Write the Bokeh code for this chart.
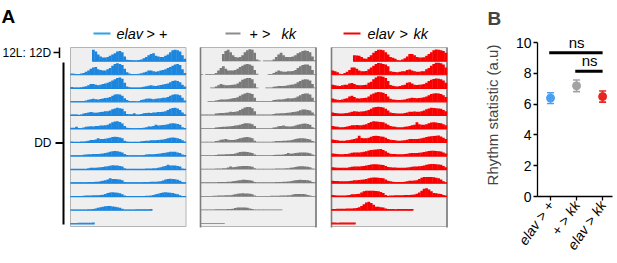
import math
from bokeh.plotting import figure
from bokeh.layouts import row
from bokeh.models import Range1d, FixedTicker, Whisker, ColumnDataSource, TeeHead
from bokeh.core.properties import value
from bokeh.embed import file_html
from bokeh.resources import INLINE

FONT = "Liberation Sans"
N = None

# ---------------- data ----------------
genotypes = ["elav > +", "+ > kk", "elav > kk"]
bar_colors = ["#1c86de", "#7a7a7a", "#f70000"]
legend_colors = ["#29a3e6", "#8c8c8c", "#f70000"]
point_colors = ["#4b9ff0", "#a3a3a3", "#e8251f"]

# hourly activity per day (0-10 scale), double plotted: row r = day r | day r+1
elav_plus = [
    [N]*9 + [9.5, 8, 5.5, 4, 3, 3, 3.5, 4.5, 5.5, 6.5, 8, 8.5, 7.5, 4, 1.2],
    [1, 0.8, 0.3, 0.2, 1, 1.5, 2.5, 3.5, 5, 6, 6.5, 4.5, 4, 3.5, 3.5, 4.5, 5.5, 7.5, 9, 9.5, 9, 8, 5, 2],
    [1, 0.6, 0.3, 0.5, 0.8, 1.2, 1.8, 2.5, 3.5, 3.5, 3, 2.5, 3, 3.5, 4, 4.5, 5.5, 6.5, 7.5, 8.5, 9, 8, 4.5, 1.5],
    [0.8, 0.5, 0.3, 0.4, 0.6, 0.8, 1.2, 1.8, 2.2, 2.5, 2.2, 2, 2.3, 2.8, 3.2, 3.5, 4, 5, 6, 6.4, 6, 5, 3, 1.5],
    [0.5, 0.4, 0.2, 0, 0.3, 1.5, 2, 2.5, 2.8, 2.5, 2.2, 2.5, 2.8, 3, 3.5, 3.5, 4, 5, 5.8, 6.4, 6, 5.5, 3.5, 1.2],
    [1, 1, 1.8, 0.8, 0.6, 1.2, 1.8, 2, 2.2, 2, 2.5, 2.5, 2.8, 2.8, 3, 3.5, 4.5, 5.5, 6.2, 6.4, 5.8, 4.5, 2.5, 1],
    [0.8, 0.6, 0.5, 0.6, 0.8, 0.8, 1, 1.5, 2, 2, 2.5, 3.5, 2.8, 3, 3.2, 3.5, 4, 4.5, 4.7, 4.5, 4.2, 3.5, 1.5, 0.8],
    [0.5, 0.4, 0.5, 0.3, 0.5, 1, 1.3, 1.5, 1.5, 1.8, 1.8, 1.8, 2, 2.2, 2.5, 3, 3.5, 4, 4.2, 4, 3.6, 3, 1.8, 0.8],
    [0.5, 0.3, 0.3, 0.3, 0.5, 0.6, 0.8, 1.2, 1.5, 1.5, 1.5, 1.8, 2, 2.2, 2.5, 2.8, 3.2, 3.6, 3.5, 3.5, 3, 2.5, 1.2, 0.8],
    [0.5, 0.5, 0.4, 0.5, 0.6, 0.8, 0.8, 1, 1, 1, 1.2, 1.2, 1.5, 2, 2.5, 3, 4, 3.5, 3.5, 3.3, 3, 2.5, 1, 0.5],
    [0.5, 0.4, 0.3, 0.4, 0.5, 0.8, 1, 1, 1, 1.1, 1.2, 1.2, 1.4, 1.6, 2.2, 3, 3.5, 3.6, 3.4, 3.2, 2.8, 2, 1, 0.5],
    [0.4, 0.3, 0.2, 0.4, 0.5, 0.6, 0.6, 0.8, 0.8, 1, 1.5, 2, 2.5, 3, 3.4, 3.6, 3.5, 3.2, 3, 2.5, 2, 1.2, 0.6, 0.5],
    [0.5, 0.6, 0.7, 0.8, 0.8, 0.8, 0.9, 0.8, 0.9, 1.0],
]
plus_kk = [
    [N]*9 + [6, 8.5, 9.4, 7.5, 5, 3.5, 3, 3.5, 5, 7.5, 9, 10, 9.5, 7, 1.5],
    [0.2, 0, 0.3, 0.3, 0.3, 0.5, 1.5, 3.5, 5.5, 7, 5, 3.5, 3.5, 3.5, 4, 5, 6.5, 7.5, 8.5, 8.9, 8.5, 7.5, 4, 0.8],
    [0, 0, 0, 0, 0.3, 0.5, 1.5, 2.5, 3.5, 3, 2.5, 2.5, 2.8, 3, 3.2, 4, 5.5, 7, 8, 8.6, 8.5, 7.5, 4, 0.6],
    [0, 0, 0, 0.2, 0.3, 0.5, 1.2, 1.5, 2, 2, 2, 2.2, 2.5, 3, 3.2, 3.8, 5, 6, 7, 7.5, 7.2, 6.5, 3.5, 0.5],
    [0.2, 0.2, 0.2, 0.3, 0.2, 0.5, 1.5, 1.8, 2, 2, 2.2, 2.5, 3, 2.8, 3, 3.5, 4.5, 5.5, 6.5, 7, 7, 6, 3.5, 0.5],
    [0.2, 0.2, 0.2, 0.2, 0.3, 0.5, 1.2, 1.5, 1.6, 1.8, 1.8, 2, 2.3, 2.5, 2.8, 3, 3.5, 4.2, 4.8, 4.8, 4.5, 4, 2.5, 0.5],
    [0.2, 0.2, 0.3, 0.2, 0.4, 0.6, 1.3, 1.5, 2.2, 2.5, 2.8, 2.2, 2, 2.1, 2.3, 2.8, 3.5, 4, 4.3, 4.5, 4.2, 3.5, 1.5, 0.6],
    [0.2, 0.2, 0.2, 0.3, 0.3, 0.4, 0.8, 1.2, 1.3, 1.3, 1.4, 1.5, 1.6, 1.8, 2.2, 2.8, 3.3, 3.5, 3.6, 3.4, 3, 2.5, 1.2, 0.4],
    [0.2, 0.2, 0.2, 0.2, 0.3, 0.6, 0.9, 1, 1, 1.1, 1.2, 1.8, 2.5, 2, 2.2, 2.5, 2.8, 3, 3, 3, 2.8, 2.3, 1.2, 0.3],
    [0.2, 0.2, 0.1, 0.2, 0.3, 0.5, 0.8, 1, 1, 1, 1, 1.1, 1.2, 1.5, 1.8, 2.2, 2.5, 2.8, 2.8, 2.6, 2.4, 2, 1, 0.3],
    [0.2, 0.2, 0.2, 0.2, 0.4, 0.7, 0.8, 0.9, 1, 1, 1.1, 1.2, 1.3, 1.6, 2, 2.4, 2.6, 2.8, 2.7, 2.6, 2.4, 2, 1, 0.3],
    [0.2, 0.2, 0.2, 0.3, 0.6, 0.7, 0.8, 0.8, 0.8, 0.9, 0.9, 1, 1.1, 1.3, 1.8, 2.2, 2.3, 2.3, 2.2, 2.1, 1.5, 1, 0.6, 0.2],
    [0.2, 0.2, 0.2, 0.5, 0.6, 0.6, 0.6, 0.7, 0.7, 0.6],
]
elav_kk = [
    [N]*9 + [5, 4.8, 4.5, 3.5, 2.2, 2, 3.5, 5, 7, 8.5, 9.4, 9.4, 9, 7.5, 5.5],
    [3.5, 2.8, 2, 0.8, 0.2, 1.5, 2.5, 4, 6, 6, 5, 3.5, 3, 3, 3.2, 4.5, 6, 7.5, 9, 9.7, 9.5, 9, 8.5, 7],
    [3, 2.5, 2.2, 2, 2.5, 3, 3, 4, 4.4, 3.5, 2.8, 2.5, 2.5, 2.8, 3, 4.5, 5.5, 7.5, 9, 10, 10, 9.5, 8.5, 6],
    [2.8, 2.2, 1.8, 1.5, 2, 2.5, 3, 4.5, 5, 4, 3, 2.8, 3, 3.2, 3.5, 4.5, 6, 7, 7.8, 8.2, 8, 7.5, 6.5, 4.5],
    [2.5, 2, 1.8, 1.5, 1.5, 1.8, 2, 2.5, 3, 3.5, 3.2, 3, 3.2, 3.5, 3.8, 4.5, 5.5, 6.5, 7, 7.2, 7, 6.5, 5.5, 4],
    [2.5, 2, 1.8, 1.5, 1.5, 1.6, 2, 2.5, 3, 3, 3.2, 3, 3, 3.5, 4, 5, 5.8, 6.4, 6.2, 6, 5.8, 5.5, 4.5, 3.5],
    [2.5, 2, 1.8, 1.5, 1.5, 1.5, 1.8, 2, 2.5, 3, 3.5, 5.5, 3.8, 3.5, 3.5, 4, 4.8, 5.3, 5.5, 5.3, 5, 4.8, 4, 3],
    [2.2, 2, 1.8, 1.5, 1.5, 1.6, 1.8, 2.2, 2.8, 3, 3, 3, 3.2, 3.5, 4, 4.5, 5, 5.2, 5.4, 5.6, 5.8, 5, 4, 2.8],
    [2, 1.8, 1.6, 1.5, 1.5, 1.5, 1.6, 2, 2.3, 2.5, 2.5, 2.6, 2.8, 3, 3.4, 3.8, 4.2, 4.4, 4.4, 4.2, 4, 3.8, 3, 2.2],
    [2, 1.8, 1.7, 1.5, 1.5, 1.5, 1.6, 1.8, 2, 2.4, 2.5, 2.6, 2.8, 3, 3.5, 4, 4.5, 4.7, 4.6, 4.4, 4.2, 4, 3, 2],
    [1.5, 1.2, 1, 1, 1, 1, 1.2, 1.5, 2, 2, 2.2, 2.5, 3.5, 4.5, 5, 5, 5, 5, 4.8, 4.5, 4, 3, 1.5, 0.8],
    [1, 1, 1.2, 1.2, 1.3, 1.3, 1.4, 1.5, 1.5, 1.6, 1.8, 2.5, 3.5, 5, 6.5, 7, 6, 4.5, 3, 2.8, 2.5, 2.2, 1.5, 1],
    [1, 1, 0.9, 1, 1, 1, 1, 1, 1.1, 1],
]
series = [elav_plus, plus_kk, elav_kk]
draw_baseline = [True, False, True]

# panel B: rhythm statistic (mean, sem)
rhythm_mean = [6.4, 7.2, 6.5]
rhythm_sem = [0.35, 0.38, 0.36]
sig_pairs = [(1, 3, 9.35), (2, 3, 8.15)]
sig_text = ["ns", "ns"]

# ---------------- panel A ----------------
WA, H = 460, 263
PPU = 115.5 / 48.0          # pixels per hour
ROW = 13.55                 # pixels per row
X0 = -70.0 / PPU
YTOP = 60.7 / ROW
offsets = [0.0, 130.0 / PPU, 261.0 / PPU]
K = 0.089
n_rows = 13

def X(px):
    return X0 + px / PPU

def Y(py):
    return YTOP - py / ROW

pA = figure(width=WA, height=H, x_range=Range1d(X0, X0 + WA / PPU),
            y_range=Range1d(YTOP - H / ROW, YTOP), x_axis_type=None, y_axis_type=None,
            output_backend="svg", toolbar_location=None, min_border=0)
pA.outline_line_color = None
pA.grid.visible = False
pA.background_fill_color = "white"
pA.frame_align = False

# panel backgrounds
pA.quad(left=offsets, right=[o + 48 for o in offsets], top=[Y(47)] * 3, bottom=[Y(226)] * 3,
        fill_color="#efefef", line_color="#b4b4b4", line_width=1)
pA.segment(x0=[offsets[1], offsets[1] + 48, offsets[2], offsets[2] + 48],
           x1=[offsets[1], offsets[1] + 48, offsets[2], offsets[2] + 48],
           y0=[Y(47)] * 4, y1=[Y(227)] * 4, line_color="#7c7c7c", line_width=1.6)

bx, bb, bt, bc = [], [], [], []
sx0, sx1, sy, sc = [], [], [], []
for g, days in enumerate(series):
    off = offsets[g]
    for r in range(n_rows):
        for half in (0, 1):
            d = r + half
            if d >= len(days):
                continue
            vals = days[d]
            hs = [h for h, v in enumerate(vals) if v is not None]
            if not hs:
                continue
            for h in hs:
                v = vals[h]
                if v <= 0:
                    continue
                bx.append(off + 24 * half + h + 0.5)
                bb.append(-r)
                bt.append(-r + max(v * K, 0.06))
                bc.append(bar_colors[g])
            if draw_baseline[g]:
                sx0.append(off + 24 * half + hs[0])
                sx1.append(off + 24 * half + hs[-1] + 1)
                sy.append(-r)
                sc.append(bar_colors[g])

pA.segment(x0=sx0, x1=sx1, y0=sy, y1=sy, line_color=sc, line_width=1.2)
pA.vbar(x=bx, width=1.15, bottom=bb, top=bt, fill_color=bc, line_color=None)

def txt(p, x, y, s, size, style="normal", align="left", baseline="middle", color="black", angle=0):
    p.text(x=[x], y=[y], text=[s], text_font=value(FONT), text_font_size=size,
           text_font_style=style, text_align=align, text_baseline=baseline,
           text_color=color, angle=angle)

txt(pA, X(1), Y(16), "A", "19px", style="bold")

# legends
leg_line = [(93, 110), (225, 240), (343, 360)]
for (a, b), c in zip(leg_line, legend_colors):
    pA.line(x=[X(a), X(b)], y=[Y(33), Y(33)], line_color=c, line_width=2)
LS = "14.5px"
txt(pA, X(116), Y(33), "elav", LS, style="italic")
txt(pA, X(146), Y(33), "> +", LS)
txt(pA, X(249), Y(33), "+ >", LS)
txt(pA, X(281), Y(33), "kk", LS, style="italic")
txt(pA, X(367), Y(33), "elav", LS, style="italic")
txt(pA, X(399), Y(33), ">", LS)
txt(pA, X(413), Y(33), "kk", LS, style="italic")

# left brackets
txt(pA, X(2), Y(52), "12L: 12D", "12px")
pA.segment(x0=[X(53), X(59)], x1=[X(59), X(59)], y0=[Y(52), Y(47)], y1=[Y(52), Y(57.5)],
           line_color="black", line_width=1.5)
pA.segment(x0=[X(63), X(55)], x1=[X(63), X(63)], y0=[Y(62), Y(142.5)], y1=[Y(224), Y(142.5)],
           line_color="black", line_width=2)
txt(pA, X(51), Y(142.5), "DD", "12px", align="right")

# ---------------- panel B ----------------
xpos = [1, 2, 3]
pB = figure(width=157, height=H, x_range=Range1d(0.5, 3.38), y_range=Range1d(0, 10.6),
            output_backend="svg", toolbar_location=None,
            min_border_left=77, min_border_right=5, min_border_top=33, min_border_bottom=67)
pB.outline_line_color = None
pB.grid.visible = False
pB.frame_align = False
pB.title.text = "B"
pB.title.text_font = FONT
pB.title.text_font_size = "19px"
pB.title.text_font_style = "bold"
pB.title.align = "left"
pB.title.offset = -50

for ax in (pB.xaxis[0], pB.yaxis[0]):
    ax.axis_line_width = 1.3
    ax.axis_line_color = "black"
    ax.major_tick_line_color = "black"
    ax.major_tick_line_width = 1.3
    ax.major_tick_out = 4
    ax.major_tick_in = 0
    ax.minor_tick_line_color = None
    ax.major_label_text_font = FONT
    ax.major_label_text_font_size = "14px"
    ax.major_label_text_color = "black"
    ax.major_label_standoff = 2

pB.yaxis.ticker = FixedTicker(ticks=[0, 2, 4, 6, 8, 10])
pB.yaxis.bounds = (0, 10)
pB.yaxis.axis_label = "Rhythm statistic (a.u)"
pB.yaxis.axis_label_text_font = FONT
pB.yaxis.axis_label_text_font_style = "normal"
pB.yaxis.axis_label_text_font_size = "15px"
pB.yaxis.axis_label_standoff = 12

pB.xaxis.ticker = FixedTicker(ticks=xpos)
pB.xaxis.major_label_overrides = {x: g for x, g in zip(xpos, genotypes)}
pB.xaxis.major_label_orientation = math.radians(55)
pB.xaxis.major_label_text_font_style = "italic"

for x, m, e, c in zip(xpos, rhythm_mean, rhythm_sem, point_colors):
    src = ColumnDataSource(dict(x=[x], upper=[m + e], lower=[m - e]))
    pB.add_layout(Whisker(base="x", upper="upper", lower="lower", source=src,
                          line_color=c, line_width=1.6,
                          upper_head=TeeHead(size=7, line_color=c, line_width=1.6),
                          lower_head=TeeHead(size=7, line_color=c, line_width=1.6)))
pB.scatter(x=xpos, y=rhythm_mean, size=8, fill_color=point_colors, line_color=point_colors)

for (a, b, yy), s in zip(sig_pairs, sig_text):
    pB.segment(x0=[a - 0.05], x1=[b], y0=[yy], y1=[yy], line_color="black", line_width=3)
    pB.text(x=[(a + b) / 2], y=[yy + 0.12], text=[s], text_font=value(FONT),
            text_font_size="15px", text_align="center", text_baseline="bottom")

layout = row(pA, pB)
open("out.html", "w").write(file_html(layout, INLINE))
